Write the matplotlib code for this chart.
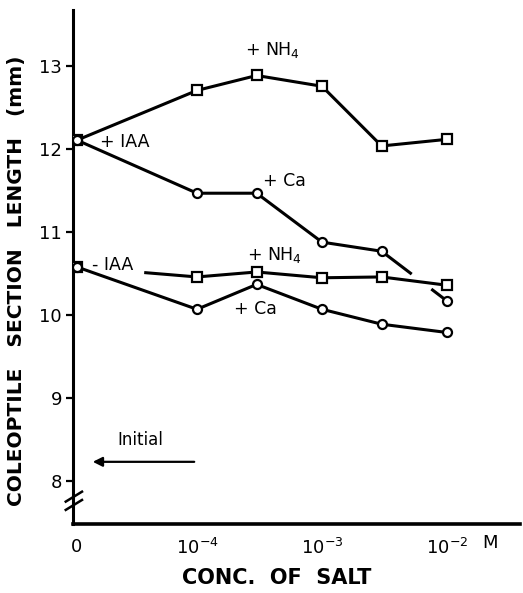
import numpy as np
import matplotlib
matplotlib.use('Agg')
import matplotlib.pyplot as plt

# concentrations of salt (M); 0 is drawn left of the first decade
conc = [0, 1e-4, 3e-4, 1e-3, 3e-3, 1e-2]

# coleoptile section length (mm)
iaa_nh4 = [12.11, 12.71, 12.89, 12.76, 12.04, 12.12]
iaa_ca = [12.11, 11.47, 11.47, 10.88, 10.77, 10.17]
noiaa_nh4 = [10.58, 10.46, 10.52, 10.45, 10.46, 10.36]
noiaa_ca = [10.58, 10.07, 10.37, 10.07, 9.89, 9.79]

initial = 8.23

xtick_conc = [0, 1e-4, 1e-3, 1e-2]
xtick_labels = ['0', r'$10^{-4}$', r'$10^{-3}$', r'$10^{-2}$']
yticks = [8, 9, 10, 11, 12, 13]

ZERO_POS = -4.96


def xpos(c):
	return np.array([np.log10(v) if v > 0 else ZERO_POS for v in c])


def draw(ax, x, y, marker, gap=None):
	# gap = (segment index, start fraction, end fraction) of a hidden piece
	x = np.asarray(x, float)
	y = np.asarray(y, float)
	style = dict(color='black', lw=2.2, solid_capstyle='butt')
	if gap is None:
		ax.plot(x, y, **style)
	else:
		i, f0, f1 = gap
		xa = x[i] + f0 * (x[i + 1] - x[i])
		ya = y[i] + f0 * (y[i + 1] - y[i])
		xb = x[i] + f1 * (x[i + 1] - x[i])
		yb = y[i] + f1 * (y[i + 1] - y[i])
		ax.plot(list(x[:i + 1]) + [xa], list(y[:i + 1]) + [ya], **style)
		ax.plot([xb] + list(x[i + 1:]), [yb] + list(y[i + 1:]), **style)
	ax.plot(x, y, ls='none', marker=marker, ms=7 if marker == 's' else 6.5,
			mfc='white', mec='black', mew=1.6, zorder=5)


fig = plt.figure(figsize=(5.23, 5.93), dpi=100)
ax = fig.add_axes([73 / 523, 69 / 593, 447 / 523, 514 / 593])

x = xpos(conc)
draw(ax, x, iaa_nh4, 's')
draw(ax, x, iaa_ca, 'o', gap=(4, 0.46, 0.76))
draw(ax, x, noiaa_nh4, 's', gap=(0, 0.0, 0.56))
draw(ax, x, noiaa_ca, 'o')

fs = 12.5
ax.text(-3.40, 13.2, '+ NH$_4$', fontsize=fs, ha='center', va='center')
ax.text(-4.78, 12.09, '+ IAA', fontsize=fs, ha='left', va='center')
ax.text(-3.47, 11.62, '+ Ca', fontsize=fs, ha='left', va='center')
ax.text(-3.60, 10.72, '+ NH$_4$', fontsize=fs, ha='left', va='center')
ax.text(-4.84, 10.61, '- IAA', fontsize=fs, ha='left', va='center')
ax.text(-3.70, 10.07, '+ Ca', fontsize=fs, ha='left', va='center')

ax.annotate('', xy=(-4.856, initial), xytext=(-4.0, initial),
			arrowprops=dict(arrowstyle='-|>', color='black', lw=1.6,
							mutation_scale=14))
ax.text(-4.45, initial + 0.15, 'Initial', fontsize=12, ha='center', va='bottom')

ax.set_xlim(-4.992, -1.416)
ax.set_ylim(7.48, 13.68)

ax.set_xticks(xpos(xtick_conc))
ax.set_xticklabels(xtick_labels, fontsize=13)
ax.set_yticks(yticks)
ax.set_yticklabels([str(t) for t in yticks], fontsize=13)
ax.tick_params(axis='x', length=0, pad=10)
ax.tick_params(axis='y', length=5, width=1.6, pad=3)

ax.text(-1.66, 7.36, 'M', fontsize=13, ha='center', va='top')

for s in ['top', 'right']:
	ax.spines[s].set_visible(False)
ax.spines['left'].set_linewidth(2.2)
ax.spines['bottom'].set_linewidth(2.6)

# axis break marks on the y axis
for yb in [7.71, 7.81]:
	ax.plot([-5.05, -4.92], [yb - 0.06, yb + 0.06], color='black', lw=1.8,
			clip_on=False)

ax.set_ylabel('COLEOPTILE   SECTION   LENGTH   (mm)', fontsize=14.5,
			  fontweight='bold')
ax.yaxis.set_label_coords(-0.105, 0.473)
ax.set_xlabel('CONC.  OF  SALT', fontsize=15, fontweight='bold')
ax.xaxis.set_label_coords(0.456, -0.085)

plt.savefig('out.png', dpi=100)
